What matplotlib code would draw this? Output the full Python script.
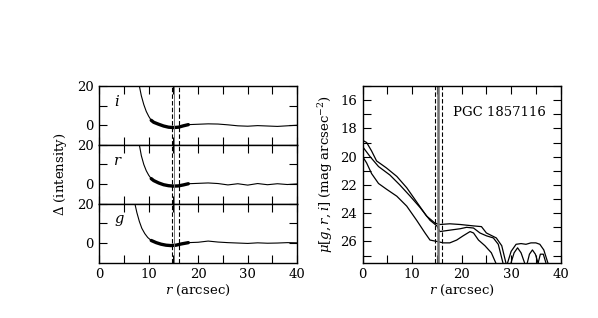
import numpy as np
import matplotlib
matplotlib.use("Agg")
import matplotlib.pyplot as plt
from matplotlib.ticker import MultipleLocator, FixedFormatter, FixedLocator

plt.rcParams['font.family'] = ['DejaVu Serif']
plt.rcParams['mathtext.fontset'] = 'dejavuserif'
plt.rcParams['font.size'] = 9.5

# residual profiles (left), per band
band_names = ['i', 'r', 'g']
res_r = {
    'i': [8.1, 8.5, 9.0, 9.5, 10.0, 10.5, 11.0, 12.0, 13.0, 14.0, 15.0, 16.0, 17.0, 18.0,
          20.0, 22.0, 24.0, 26.0, 28.0, 30.0, 32.0, 34.0, 36.0, 38.0, 40.0],
    'r': [8.1, 8.5, 9.0, 9.5, 10.0, 10.5, 11.0, 12.0, 13.0, 14.0, 15.0, 16.0, 17.0, 18.0,
          20.0, 22.0, 24.0, 26.0, 28.0, 30.0, 32.0, 34.0, 36.0, 38.0, 40.0],
    'g': [7.2, 7.6, 8.1, 8.6, 9.2, 9.8, 10.5, 11.5, 12.5, 13.5, 14.5, 15.5, 16.5, 18.0,
          20.0, 22.0, 24.0, 26.0, 28.0, 30.0, 32.0, 34.0, 36.0, 38.0, 40.0],
}
res_d = {
    'i': [20.0, 15.0, 10.5, 7.0, 4.5, 2.5, 1.5, 0.5, -0.4, -1.0, -1.2, -1.0, -0.3, 0.3,
          0.5, 0.7, 0.6, 0.2, -0.3, -0.5, -0.2, -0.4, -0.6, -0.3, 0.0],
    'r': [20.0, 14.5, 10.0, 6.8, 4.5, 2.8, 1.8, 0.6, -0.3, -0.8, -1.0, -0.9, -0.4, 0.2,
          0.4, 0.6, 0.3, -0.4, 0.2, -0.5, 0.3, -0.3, 0.2, -0.2, 0.1],
    'g': [20.0, 15.5, 11.0, 7.5, 4.8, 2.8, 1.3, 0.2, -0.6, -1.1, -1.3, -1.1, -0.5, 0.2,
          0.4, 1.0, 0.5, 0.2, 0.0, -0.2, 0.1, -0.1, 0.0, 0.2, 0.1],
}
thick_lo, thick_hi = 10.5, 18.0

# surface brightness profiles (right)
sb_r1 = [0, 0.8, 1.8, 2.8, 4.8, 6.9, 8.9, 10.9, 12.9, 14.6, 15.6, 17.6, 19.7, 22.4, 24.0,
         25.0, 27.0, 28.1, 29.0]
sb_m1 = [18.85, 19.0, 19.6, 20.3, 20.8, 21.4, 22.2, 23.2, 24.2, 24.7, 24.8, 24.75, 24.8, 24.9, 24.95,
         25.4, 25.75, 26.3, 27.6]
sb_r2 = [0, 1.5, 3.2, 5.5, 7.5, 9.6, 11.6, 13.6, 15.0, 15.6, 17.6, 19.7, 21.0, 22.4, 23.7,
         25.0, 26.4, 27.4, 28.4]
sb_m2 = [19.3, 20.0, 20.7, 21.3, 22.0, 22.8, 23.6, 24.5, 24.9, 25.3, 25.2, 25.1, 25.0, 25.05, 25.4,
         25.6, 25.75, 26.2, 27.6]
sb_r3 = [0, 0.8, 1.8, 3.2, 4.8, 6.9, 8.9, 10.9, 12.6, 13.6, 15.0, 16.3, 17.6, 19.0, 20.3,
         21.7, 22.4, 23.4, 24.7, 26.0, 27.0]
sb_m3 = [20.0, 20.45, 21.2, 21.9, 22.3, 22.8, 23.5, 24.5, 25.4, 25.9, 26.0, 26.1, 26.1, 25.9, 25.6,
         25.3, 25.4, 25.9, 26.3, 26.8, 27.6]
# noisy outer arches
arch_r = [[29.2, 30.0, 31.0, 32.0, 33.0, 34.0, 35.0, 35.8, 36.6, 37.5],
          [29.9, 30.6, 31.3, 32.0, 32.8],
          [33.2, 33.7, 34.3, 34.9, 35.5],
          [35.4, 35.9, 36.5, 37.1]]
arch_m = [[27.6, 26.7, 26.2, 26.15, 26.2, 26.1, 26.1, 26.2, 26.6, 27.6],
          [27.6, 26.8, 26.45, 26.8, 27.6],
          [27.6, 26.9, 26.6, 26.9, 27.6],
          [27.6, 26.9, 26.9, 27.6]]

vlines = [(14.6, 'dash'), (15.2, 'solid'), (16.1, 'dash')]

fig = plt.figure(figsize=(5.98, 3.18), dpi=100)

left, width = 0.166, 0.331
bottom, height = 0.174, 0.5557
h = height / 3


def style_ax(ax):
    ax.tick_params(direction='in', top=True, right=True, length=5.5, width=0.8,
                   which='both', pad=4)
    for s in ax.spines.values():
        s.set_linewidth(1.0)


for k, band in enumerate(band_names):
    ax = fig.add_axes([left, bottom + (2 - k) * h, width, h])
    rr = np.array(res_r[band])
    dd = np.array(res_d[band])
    ax.plot(rr, dd, color='black', lw=0.8)
    m = (rr >= thick_lo) & (rr <= thick_hi)
    ax.plot(rr[m], dd[m], color='black', lw=2.4, solid_capstyle='round')
    for x, kind in vlines:
        if kind == 'dash':
            ax.axvline(x, color='black', lw=0.8, ls=(0, (4, 2)))
        else:
            ax.axvline(x, color='0.45', lw=0.7)
    ax.text(3.0, 12.0, band, fontstyle='italic', fontsize=10.5, va='center')
    ax.set_xlim(0, 40)
    ax.set_ylim(-10, 20)
    ax.xaxis.set_major_locator(MultipleLocator(10))
    ax.xaxis.set_minor_locator(MultipleLocator(5))
    ax.yaxis.set_major_locator(FixedLocator([0, 10, 20]))
    ax.yaxis.set_major_formatter(FixedFormatter(['0', '', '20']))
    style_ax(ax)
    if k < 2:
        ax.set_xticklabels([])
    else:
        ax.set_xlabel(r'$r$ (arcsec)', labelpad=1)
    if k == 1:
        ax.set_ylabel(r'$\Delta$ (intensity)', labelpad=6)

ax2 = fig.add_axes([0.6065, bottom, width, height])
ax2.plot(sb_r1, sb_m1, color='black', lw=0.9)
ax2.plot(sb_r2, sb_m2, color='black', lw=0.9)
ax2.plot(sb_r3, sb_m3, color='black', lw=0.9)
for ar, am in zip(arch_r, arch_m):
    ax2.plot(ar, am, color='black', lw=0.9)
for x, kind in vlines:
    if kind == 'dash':
        ax2.axvline(x, color='black', lw=0.8, ls=(0, (4, 2)))
    else:
        ax2.axvline(x, color='0.45', lw=1.8)
ax2.text(18.2, 16.9, 'PGC 1857116', fontsize=9.5, va='center')
ax2.set_xlim(0, 40)
ax2.set_ylim(27.5, 15)
ax2.xaxis.set_major_locator(MultipleLocator(10))
ax2.xaxis.set_minor_locator(MultipleLocator(5))
ax2.yaxis.set_major_locator(MultipleLocator(2))
ax2.yaxis.set_minor_locator(MultipleLocator(1))
style_ax(ax2)
ax2.set_xlabel(r'$r$ (arcsec)', labelpad=1)
ax2.set_ylabel(r'$\mu[g,r,i]$ (mag arcsec$^{-2}$)', labelpad=4)

fig.savefig('out.png', dpi=100)
